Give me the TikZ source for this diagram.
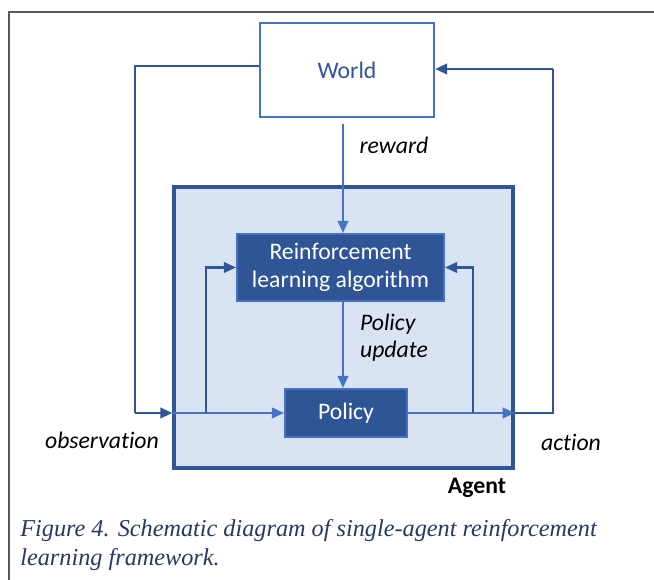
\documentclass[tikz,border=0pt]{standalone}
\usepackage{fontspec}
\setmainfont{Carlito}[Ligatures=NoCommon]
\newfontfamily\captionfont{Liberation Serif}
\usetikzlibrary{arrows.meta}

\definecolor{darkblue}{HTML}{2F5597}
\definecolor{midblue}{HTML}{4472C4}
\definecolor{paleblue}{HTML}{DAE3F3}
\definecolor{captionblue}{RGB}{38,58,98}
\definecolor{framegray}{HTML}{595959}

\tikzset{
    tip/.style={-{Triangle[length=0.24cm, width=0.21cm]}},
    outer link/.style={darkblue, line width=1.4pt},
    inner link/.style={midblue, line width=1.2pt},
    blockbox/.style={draw=midblue, fill=darkblue, line width=1.2pt, text=white, align=center, font=\fontsize{13.5}{15.5}\selectfont},
    label text/.style={font=\fontsize{13.5}{15.5}\selectfont\itshape, align=left}
}

\begin{document}
\begin{tikzpicture}[x=0.02cm, y=-0.02cm]
    \useasboundingbox (0,0) rectangle (654,580);
    \fill[white] (0,0) rectangle (654,580);
    % outer frame of the figure
    \draw[framegray, line width=1pt] (9,580) -- (9,12) -- (654,12);

    % world
    \node[draw=midblue, line width=1.4pt, minimum width=3.48cm, minimum height=1.88cm,
        text=darkblue, font=\fontsize{13.5}{15.5}\selectfont] (world) at (347,70) {World};

    % agent
    \node[draw=darkblue, fill=paleblue, line width=2pt, minimum width=6.78cm, minimum height=5.62cm] (agent) at (343.5,327.5) {};
    \node[font=\fontsize{13.5}{15.5}\selectfont\bfseries] (agentlabel) at (477,488) {Agent};

    \node[blockbox, minimum width=4.14cm, minimum height=1.34cm] (rl) at (340.5,267.5) {Reinforcement\\learning algorithm};
    \node[blockbox, minimum width=2.44cm, minimum height=0.96cm] (policy) at (346,413) {Policy};

    % junctions
    \coordinate (obsin) at (agent.west |- policy.west);
    \coordinate (actout) at (agent.east |- policy.east);
    \coordinate (obsturn) at (135,413);
    \coordinate (obstop) at (135,66);
    \coordinate (actturn) at (553,413);
    \coordinate (acttop) at (553,69);
    \coordinate (obsbranch) at (206,413);
    \coordinate (actbranch) at (473,413);
    \coordinate (rewardstart) at (343,124);

    % loop through the world
    \draw[outer link] (world.west |- obstop) -- (obstop) -- (obsturn);
    \draw[outer link, tip] (obsturn) -- (obsin);
    \draw[outer link] (actout) -- (actturn) -- (acttop);
    \draw[outer link, tip] (acttop) -- (world.east |- acttop);

    % inside the agent
    \draw[inner link, tip] (rewardstart) -- (rl.north -| rewardstart);
    \draw[inner link, tip] (rl.south -| rewardstart) -- (policy.north -| rewardstart);
    \draw[inner link, tip] (obsin) -- (policy.west);
    \draw[inner link, tip] (policy.east) -- (actout);
    \draw[darkblue, line width=1.2pt, tip] (obsbranch) -- (obsbranch |- rl.west) -- (rl.west);
    \draw[darkblue, line width=1.2pt, tip] (actbranch) -- (actbranch |- rl.east) -- (rl.east);

    % labels
    \node[label text] (rewardlabel) at (394,145) {reward};
    \node[label text] (updatelabel) at (394,338) {Policy\\update};
    \node[label text] (obslabel) at (102,440) {observation};
    \node[label text] (actlabel) at (571,442) {action};

    % caption
    \node[anchor=west, text=captionblue, align=left, inner sep=0pt,
        font=\captionfont\fontsize{13.8}{16.4}\selectfont\itshape] (caption) at (20,545)
        {Figure 4. Schematic diagram of single-agent reinforcement\\learning framework.};
\end{tikzpicture}
\end{document}
